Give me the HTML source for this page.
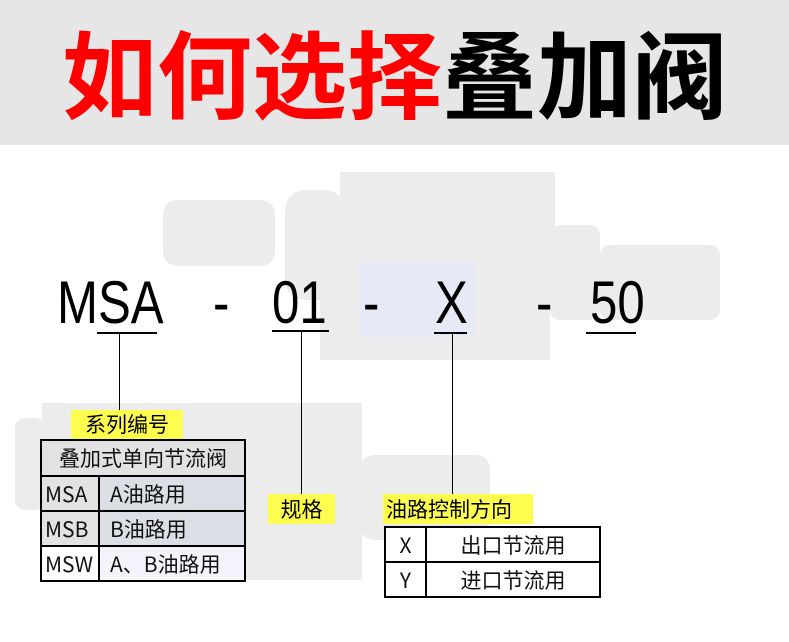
<!DOCTYPE html>
<html><head><meta charset="utf-8"><style>
*{margin:0;padding:0;box-sizing:border-box}
body{width:789px;height:642px;background:#fff;position:relative;overflow:hidden;font-family:"Liberation Sans","Noto Sans CJK SC",sans-serif}
.a{position:absolute}
.hdr{left:0;top:0;width:789px;height:145px;background:#e6e6e6}
.title{left:0;top:16px;width:789px;text-align:center;font-size:95px;font-weight:bold;line-height:110px;font-family:"Noto Sans CJK SC",sans-serif}
.code{top:270px;font-size:60px;line-height:66px;color:#000;transform:scaleX(.82);transform-origin:0 0;font-family:"Liberation Sans",sans-serif}
.ul{height:2px;background:#000}
.vl{width:1px;background:#000}
.y{background:#fdfd4f;font-size:21px;line-height:30px;color:#000;font-family:"Noto Sans CJK SC",sans-serif}
table{border-collapse:collapse;position:absolute;font-size:21px;color:#111;font-family:"Noto Sans CJK SC",sans-serif}
td{border:2px solid #000;padding:0 3px;white-space:nowrap;vertical-align:middle;line-height:28px}
.g{background:rgba(215,215,215,.5)}
.v{background:#ececec}
</style></head><body>
<div class="a hdr"></div>
<div class="a title"><span style="color:#f00">如何选择</span><span style="color:#000">叠加阀</span></div>

<!-- faded top valve -->
<div class="a v" style="left:163px;top:200px;width:112px;height:66px;border-radius:14px"></div>
<div class="a v" style="left:285px;top:190px;width:60px;height:110px;border-radius:20px"></div>
<div class="a v" style="left:340px;top:172px;width:215px;height:70px"></div>
<div class="a v" style="left:320px;top:240px;width:230px;height:120px"></div>
<div class="a v" style="left:550px;top:225px;width:50px;height:95px;border-radius:10px"></div>
<div class="a v" style="left:600px;top:245px;width:120px;height:75px;border-radius:10px"></div>
<div class="a" style="left:360px;top:262px;width:115px;height:75px;background:#e6e9f6"></div>
<!-- faded bottom valve -->
<div class="a v" style="left:15px;top:418px;width:30px;height:92px;border-radius:10px"></div>
<div class="a v" style="left:42px;top:403px;width:320px;height:177px"></div>
<div class="a" style="left:100px;top:475px;width:145px;height:100px;background:#e0e4f4"></div>
<div class="a v" style="left:360px;top:455px;width:130px;height:85px;border-radius:14px"></div>

<!-- code line -->
<div class="a code" style="left:57px">MSA</div>
<div class="a code" style="left:213px">-</div>
<div class="a code" style="left:272px">01</div>
<div class="a code" style="left:363px">-</div>
<div class="a code" style="left:435px">X</div>
<div class="a code" style="left:536px">-</div>
<div class="a code" style="left:590px">50</div>
<div class="a ul" style="left:97px;top:332px;width:60px"></div>
<div class="a ul" style="left:272px;top:330px;width:57px"></div>
<div class="a ul" style="left:434px;top:332px;width:33px"></div>
<div class="a ul" style="left:586px;top:332px;width:50px"></div>
<div class="a vl" style="left:119px;top:333px;height:77px"></div>
<div class="a vl" style="left:301px;top:331px;height:163px"></div>
<div class="a vl" style="left:452px;top:333px;height:161px"></div>

<div class="a y" style="left:71px;top:410px;width:112px;height:29px;text-align:center;line-height:29px">系列编号</div>
<table style="left:40px;top:439px;width:206px">
<tr style="height:36px"><td colspan="2" class="g" style="text-align:center">叠加式单向节流阀</td></tr>
<tr style="height:35px"><td class="g" style="width:58px">MSA</td><td class="g" style="padding-left:10px">A油路用</td></tr>
<tr style="height:35px"><td class="g">MSB</td><td class="g" style="padding-left:10px">B油路用</td></tr>
<tr style="height:35px"><td style="background:#fff">MSW</td><td style="background:rgba(255,255,255,.6);padding-left:10px">A、B油路用</td></tr>
</table>

<div class="a y" style="left:268px;top:494px;width:67px;height:30px;text-align:center">规格</div>
<div class="a y" style="left:383px;top:494px;width:150px;height:30px;padding-left:3px">油路控制方向</div>
<table style="left:384px;top:526px;width:217px;background:#fff">
<tr style="height:35px"><td style="width:41px;text-align:center">X</td><td style="text-align:center">出口节流用</td></tr>
<tr style="height:35px"><td style="text-align:center">Y</td><td style="text-align:center">进口节流用</td></tr>
</table>
</body></html>
